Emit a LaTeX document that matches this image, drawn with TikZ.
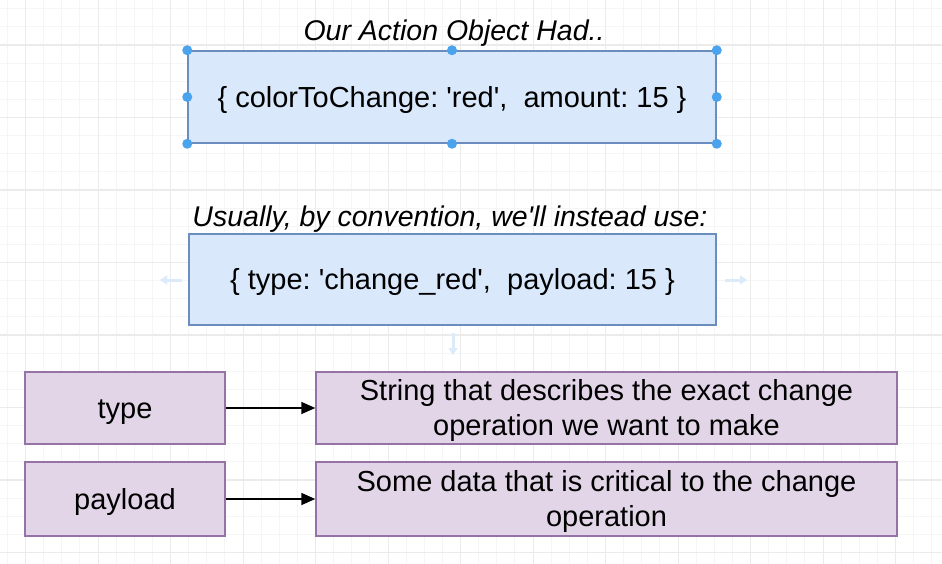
\documentclass[tikz,border=0pt]{standalone}
\usepackage{fontspec}
\setmainfont{Liberation Sans}
\usetikzlibrary{arrows.meta}
\definecolor{bluefill}{HTML}{DAE8FC}
\definecolor{bluestroke}{HTML}{6C8EBF}
\definecolor{purplefill}{HTML}{E1D5E7}
\definecolor{purplestroke}{HTML}{9673A6}
\definecolor{gridminor}{HTML}{F5F5F5}
\definecolor{gridmajor}{HTML}{EBEBEB}
\definecolor{handle}{HTML}{4AA3EC}
\definecolor{faint}{HTML}{DCEBFA}
\newcommand{\lst}{\rule[-6.15pt]{0pt}{32.4pt}}
\newcommand{\sq}{\textquotesingle}
\frenchspacing
\tikzset{
  x=1pt, y=-1pt,
  txt/.style={font=\fontsize{29}{35}\selectfont\frenchspacing, align=center, inner sep=0pt},
  ttl/.style={font=\fontsize{28.5}{34}\selectfont\itshape\frenchspacing, inner sep=0pt},
  bluebox/.style={draw=bluestroke, fill=bluefill, line width=1.5pt, txt},
  purplebox/.style={draw=purplestroke, fill=purplefill, line width=1.5pt, txt},
  conn/.style={draw=black, line width=1.8pt, -{Triangle[length=14pt,width=12pt]}},
  hdl/.style={circle, fill=handle, inner sep=0pt, minimum size=10pt},
  fa/.style={draw=faint, line width=3pt, -{Triangle[length=7pt,width=9pt]}}
}
\begin{document}
\begin{tikzpicture}
\useasboundingbox (0,0) rectangle (942,564);
\fill[white] (0,0) rectangle (942,564);
% grid
\foreach \i in {0,...,51} {\draw[gridminor, line width=1pt] ({7.475+\i*18.125},0) -- ({7.475+\i*18.125},564);}
\foreach \i in {0,...,30} {\draw[gridminor, line width=1pt] (0,{8.75+\i*18.125}) -- (942,{8.75+\i*18.125});}
\foreach \j in {0,...,12} {\draw[gridmajor, line width=1.2pt] ({25.6+\j*72.5},0) -- ({25.6+\j*72.5},564);}
\foreach \j in {0,...,7} {\draw[gridmajor, line width=1.2pt] (0,{45+\j*72.5}) -- (942,{45+\j*72.5});}

% titles and top boxes
\node[ttl] (t1) at (454,33) {Our Action Object Had..};
\node[bluebox, minimum width=528pt, minimum height=92pt] (b1) at (452,97) {\lst\{ colorToChange: \sq red\sq, \ amount: 15 \}};
\foreach \a in {north west,north,north east,west,east,south west,south,south east}
  {\node[hdl] at (b1.\a) {};}

\node[ttl] (t2) at (450,219) {Usually, by convention, we\sq ll instead use:};
\node[bluebox, minimum width=527pt, minimum height=91pt] (b2) at (452.5,279.5) {\lst\{ type: \sq change\_red\sq, \ payload: 15 \}};
% faint hover arrows
\coordinate (fl1) at (182,280); \coordinate (fl2) at (160,280);
\coordinate (fr1) at (725,280); \coordinate (fr2) at (747,280);
\coordinate (fd1) at (453,333); \coordinate (fd2) at (453,355);
\draw[fa] (fl1) -- (fl2);
\draw[fa] (fr1) -- (fr2);
\draw[fa] (fd1) -- (fd2);

% bottom rows
\node[purplebox, minimum width=200pt, minimum height=72pt] (k1) at (125,408) {\lst type};
\node[purplebox, minimum width=581pt, minimum height=72pt] (d1) at (606.5,408) {\lst String that describes the exact change\\\lst operation we want to make};
\node[purplebox, minimum width=200pt, minimum height=74pt] (k2) at (125,499) {\lst payload};
\node[purplebox, minimum width=581pt, minimum height=74pt] (d2) at (606.5,499) {\lst Some data that is critical to the change\\\lst operation};
\draw[conn] (k1) -- (d1);
\draw[conn] (k2) -- (d2);
\end{tikzpicture}
\end{document}
